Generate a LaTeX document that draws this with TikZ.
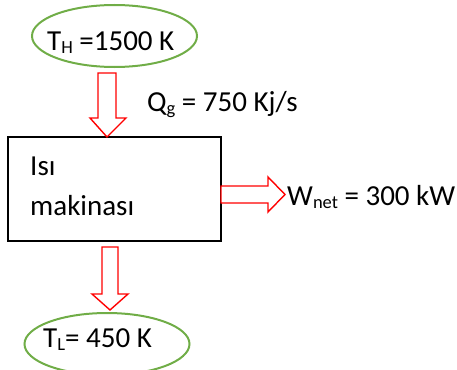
\documentclass[tikz,border=0pt]{standalone}
\usepackage{fontspec}
\setmainfont{Carlito}
\definecolor{ellgreen}{RGB}{112,173,71}
\newcommand{\lowsub}[1]{{\fontsize{18.5}{19}\selectfont\raisebox{-3pt}{#1}}}
\begin{document}
\begin{tikzpicture}[x=1pt,y=-1pt,
  ell/.style={draw=ellgreen,line width=2pt},
  blockarrow/.style={draw=red,fill=white,line width=1.4pt,line join=miter},
  lbl/.style={anchor=base west,inner sep=0pt,font=\fontsize{29}{31}\selectfont}]
\useasboundingbox (0,0) rectangle (457,369);
% top reservoir
\draw[ell] (114.5,36) ellipse [x radius=82.5, y radius=31];
\node[lbl] (th) at (47,50) {T\lowsub{H} =1500 K};
% engine box
\draw[line width=1.4pt] (8,137) rectangle (221,241);
\node[lbl] (isi) at (30,175) {Isı};
\node[lbl] (mak) at (30,215) {makinası};
% arrow in
\draw[blockarrow] (98,73) -- (116,73) -- (116,118) -- (126,118) -- (107,137) -- (90,118) -- (98,118) -- cycle;
\node[lbl] (qg) at (147,111) {Q\lowsub{g} = 750 Kj/s};
% arrow out (work)
\draw[blockarrow] (221,186) -- (268,186) -- (268,177) -- (285,194.5) -- (268,212) -- (268,203) -- (221,203) -- cycle;
\node[lbl] (wnet) at (287,205) {W\lowsub{net} = 300 kW};
% arrow to low reservoir
\draw[blockarrow] (102,247) -- (118,247) -- (118,294) -- (128,294) -- (110,310) -- (92,294) -- (102,294) -- cycle;
% bottom reservoir
\draw[ell] (107,344) ellipse [x radius=82.5, y radius=31];
\node[lbl] (tl) at (43,347) {T\lowsub{L}= 450 K};
\end{tikzpicture}
\end{document}
